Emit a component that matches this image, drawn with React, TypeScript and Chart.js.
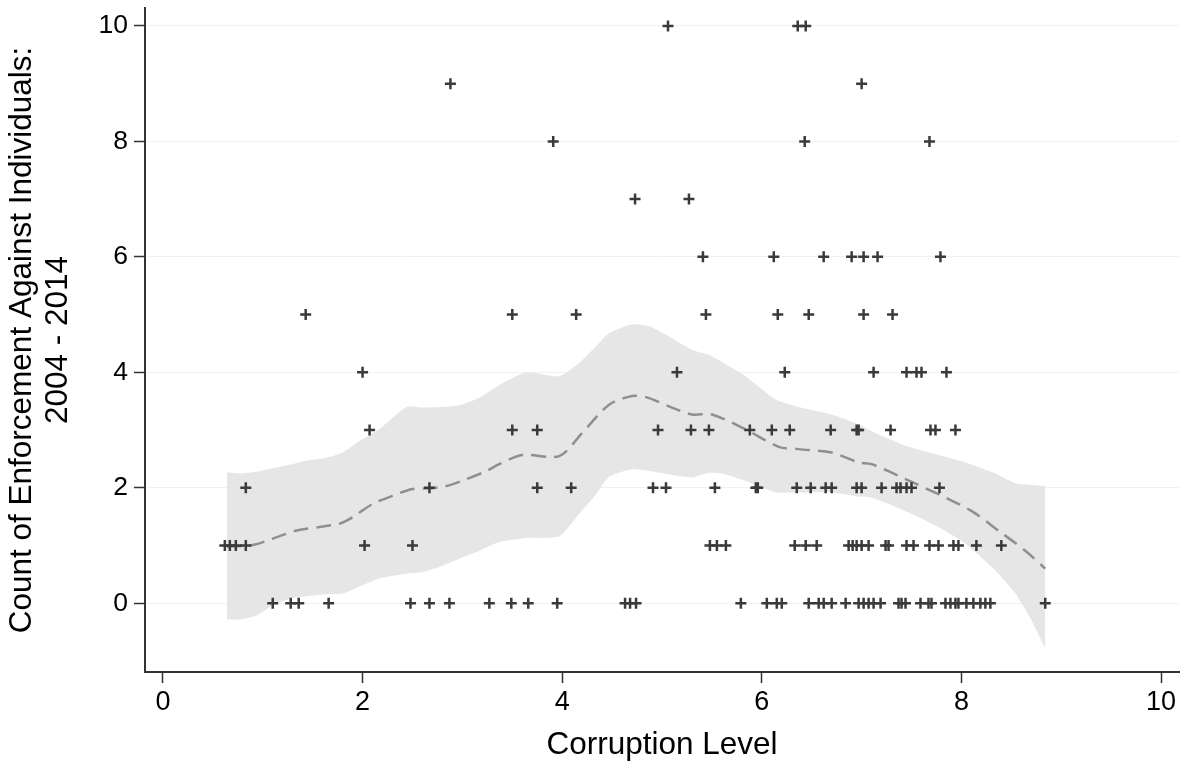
import React, { useEffect, useRef } from "react";
import { Chart, registerables } from "chart.js";

Chart.register(...registerables);

// Scatter: corruption level (x) for each observed enforcement count (y)
const xAtCount0 = [1.10, 1.28, 1.36, 1.66, 2.48, 2.67, 2.87, 3.27, 3.49, 3.66, 3.95, 4.63, 4.68, 4.74, 5.79, 6.05, 6.15, 6.20, 6.47, 6.57, 6.62, 6.70, 6.84, 6.97, 7.02, 7.07, 7.12, 7.19, 7.37, 7.40, 7.44, 7.59, 7.67, 7.70, 7.84, 7.89, 7.94, 7.97, 8.05, 8.12, 8.19, 8.24, 8.29, 8.84];
const xAtCount1 = [0.62, 0.67, 0.73, 0.83, 2.02, 2.50, 5.48, 5.55, 5.64, 6.33, 6.44, 6.55, 6.87, 6.91, 6.95, 7.00, 7.07, 7.24, 7.27, 7.45, 7.52, 7.68, 7.77, 7.92, 7.97, 8.15, 8.40];
const xAtCount2 = [0.83, 2.67, 3.75, 4.09, 4.91, 5.04, 5.53, 5.94, 5.96, 6.35, 6.49, 6.64, 6.70, 6.95, 7.00, 7.20, 7.35, 7.39, 7.45, 7.50, 7.78];
const xAtCount3 = [2.07, 3.50, 3.75, 4.96, 5.29, 5.47, 5.88, 6.10, 6.28, 6.69, 6.95, 6.97, 7.29, 7.69, 7.74, 7.94];
const xAtCount4 = [2.00, 5.15, 6.23, 7.12, 7.45, 7.55, 7.60, 7.85];
const xAtCount5 = [1.43, 3.50, 4.14, 5.44, 6.16, 6.47, 7.02, 7.31];
const xAtCount6 = [5.41, 6.12, 6.62, 6.90, 7.02, 7.16, 7.79];
const xAtCount7 = [4.73, 5.27];
const xAtCount8 = [3.91, 6.43, 7.68];
const xAtCount9 = [2.88, 7.00];
const xAtCount10 = [5.06, 6.36, 6.44];
const countLevels = [0, 1, 2, 3, 4, 5, 6, 7, 8, 9, 10];
const xByCount = [xAtCount0, xAtCount1, xAtCount2, xAtCount3, xAtCount4, xAtCount5, xAtCount6, xAtCount7, xAtCount8, xAtCount9, xAtCount10];

// Confidence band
const bandX = [0.64, 0.77, 0.94, 1.10, 1.27, 1.44, 1.64, 1.80, 1.97, 2.17, 2.44, 2.60, 2.80, 2.97, 3.17, 3.37, 3.64, 3.97, 4.17, 4.34, 4.47, 4.70, 4.87, 5.04, 5.30, 5.47, 5.60, 5.84, 6.14, 6.37, 6.70, 6.97, 7.10, 7.44, 7.77, 8.04, 8.34, 8.54, 8.70, 8.84];
const bandUpper = [2.27, 2.25, 2.28, 2.34, 2.40, 2.47, 2.52, 2.61, 2.81, 3.02, 3.40, 3.39, 3.40, 3.43, 3.56, 3.78, 4.00, 3.93, 4.16, 4.45, 4.68, 4.83, 4.80, 4.65, 4.39, 4.30, 4.18, 3.93, 3.53, 3.40, 3.27, 3.10, 2.98, 2.73, 2.57, 2.44, 2.25, 2.08, 2.05, 2.03];
const bandLower = [-0.28, -0.28, -0.21, -0.03, 0.08, 0.12, 0.16, 0.17, 0.29, 0.43, 0.51, 0.54, 0.65, 0.77, 0.91, 1.06, 1.13, 1.16, 1.55, 1.89, 2.19, 2.32, 2.29, 2.24, 2.18, 2.26, 2.25, 2.12, 1.92, 1.92, 1.92, 1.85, 1.83, 1.60, 1.32, 1.03, 0.57, 0.17, -0.29, -0.78];

// Smoothed fit (dashed)
const fitX = [0.64, 0.90, 1.10, 1.34, 1.60, 1.77, 1.90, 2.10, 2.30, 2.50, 2.67, 2.84, 3.04, 3.24, 3.37, 3.60, 3.97, 4.20, 4.47, 4.70, 4.84, 5.07, 5.30, 5.50, 5.84, 6.17, 6.37, 6.70, 6.97, 7.10, 7.44, 7.77, 8.10, 8.37, 8.64, 8.84];
const fitY = [0.98, 1.01, 1.12, 1.26, 1.33, 1.38, 1.49, 1.72, 1.86, 1.98, 1.99, 2.03, 2.15, 2.29, 2.41, 2.57, 2.55, 2.95, 3.44, 3.59, 3.57, 3.41, 3.27, 3.27, 3.01, 2.71, 2.67, 2.61, 2.44, 2.41, 2.15, 1.89, 1.60, 1.26, 0.91, 0.60];

const xTicks = [0, 2, 4, 6, 8, 10];
const yTicks = [0, 2, 4, 6, 8, 10];
const xTitle = "Corruption Level";
const yTitle = ["Count of Enforcement Against Individuals:", "2004 - 2014"];

export default function App() {
  const ref = useRef<HTMLCanvasElement | null>(null);

  useEffect(() => {
    if (!ref.current) return;
    const points: { x: number; y: number }[] = [];
    countLevels.forEach((c, i) => xByCount[i].forEach((x) => points.push({ x, y: c })));
    const font = "'Liberation Sans', Arial, Helvetica, sans-serif";

    const chart = new Chart(ref.current, {
      type: "scatter",
      data: {
        datasets: [
          {
            data: points,
            pointStyle: "cross",
            pointRadius: 5.5,
            pointBorderWidth: 2.5,
            borderColor: "#3a3a3a",
            backgroundColor: "#3a3a3a",
            showLine: false,
            order: 0,
          },
          {
            data: fitX.map((x, i) => ({ x, y: fitY[i] })),
            showLine: true,
            borderColor: "#8f8f8f",
            borderWidth: 2.5,
            borderDash: [15, 8],
            pointRadius: 0,
            fill: false,
            tension: 0.3,
            order: 1,
          },
          {
            data: bandX.map((x, i) => ({ x, y: bandUpper[i] })),
            showLine: true,
            borderWidth: 0,
            borderColor: "rgba(0,0,0,0)",
            backgroundColor: "#e6e6e6",
            pointRadius: 0,
            fill: "+1",
            tension: 0.2,
            order: 2,
          },
          {
            data: bandX.map((x, i) => ({ x, y: bandLower[i] })),
            showLine: true,
            borderWidth: 0,
            borderColor: "rgba(0,0,0,0)",
            pointRadius: 0,
            fill: false,
            tension: 0.2,
            order: 3,
          },
        ],
      },
      options: {
        responsive: false,
        devicePixelRatio: 1,
        animation: false,
        layout: { padding: { top: 6, right: 3, left: 0, bottom: 0 } },
        plugins: { legend: { display: false }, tooltip: { enabled: false } },
        scales: {
          x: {
            type: "linear",
            min: -0.18,
            max: 10.18,
            afterBuildTicks: (s: any) => {
              s.ticks = xTicks.map((v) => ({ value: v }));
            },
            afterFit: (s: any) => {
              s.height = 93;
              s.paddingLeft = 0;
              s.paddingRight = 0;
            },
            border: { display: true, color: "#333", width: 2 },
            grid: { drawOnChartArea: false, drawTicks: true, tickLength: 11, tickColor: "#333", tickWidth: 1.5 },
            ticks: { color: "#000", font: { family: font, size: 27 }, padding: 3, maxRotation: 0 },
            title: {
              display: true,
              text: xTitle,
              color: "#000",
              font: { family: font, size: 31.5, lineHeight: 1 },
              padding: { top: 0, bottom: 4 },
            },
          },
          y: {
            type: "linear",
            min: -1.19,
            max: 10.31,
            afterBuildTicks: (s: any) => {
              s.ticks = yTicks.map((v) => ({ value: v }));
            },
            afterFit: (s: any) => {
              s.width = 145;
              s.paddingTop = 0;
              s.paddingBottom = 0;
            },
            border: { display: true, color: "#333", width: 2 },
            grid: { drawOnChartArea: true, color: "#f1f1f1", lineWidth: 1, drawTicks: true, tickLength: 11, tickColor: "#333", tickWidth: 1.5 },
            ticks: { color: "#000", font: { family: font, size: 26.5 }, padding: 6 },
            title: {
              display: true,
              text: yTitle,
              color: "#000",
              font: { family: font, size: 31.5, lineHeight: "36px" as any },
              padding: { top: 4, bottom: 0 },
            },
          },
        },
      },
    });
    return () => chart.destroy();
  }, []);

  return (
    <div style={{ position: "fixed", left: 0, top: 0, width: 1187, height: 765, background: "#fff" }}>
      <canvas ref={ref} width={1187} height={765} style={{ width: 1187, height: 765 }} />
    </div>
  );
}
